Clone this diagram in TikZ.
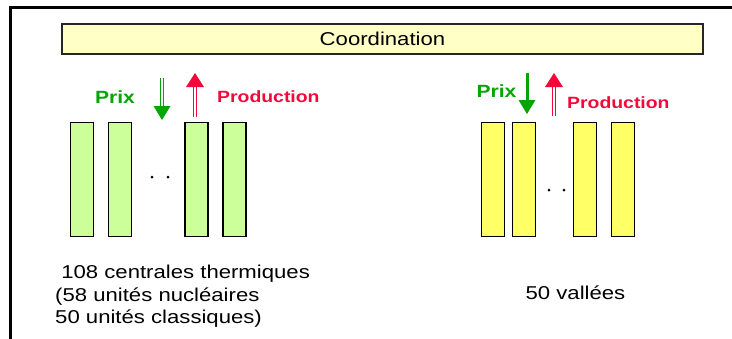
\documentclass[tikz,border=0pt]{standalone}
\usepackage{fontspec}
\setmainfont{Liberation Sans}
\newfontfamily\widefont[FakeStretch=1.19]{Liberation Sans}
\usetikzlibrary{calc}
\definecolor{coordfill}{HTML}{FFFFC6}
\definecolor{barg}{HTML}{CCFF99}
\definecolor{bary}{HTML}{FFFF66}
\definecolor{prixg}{HTML}{05A505}
\definecolor{prodr}{HTML}{F2093A}
\begin{document}
\begin{tikzpicture}[x=1pt,y=-1pt,
  bar/.style={draw=black,line width=1.4pt,minimum width=23pt,minimum height=114pt,inner sep=0pt},
  gbar/.style={bar,fill=barg},
  ybar/.style={bar,fill=bary},
  prixlbl/.style={font=\widefont\fontsize{17.7}{20}\selectfont\bfseries,inner sep=0pt,text=prixg},
  prodlbl/.style={font=\widefont\fontsize{16.3}{20}\selectfont\bfseries,inner sep=0pt,text=prodr,anchor=west},
  txt/.style={font=\widefont\fontsize{18.6}{22.5}\selectfont,inner sep=0pt},
  dshaft/.style={double distance=2.6pt,line width=0.9pt},
  dot/.style={circle,fill=black,inner sep=0pt,minimum size=3pt}
]
\useasboundingbox (0,0) rectangle (732,338);
% frame
\draw[line width=3pt,line cap=rect] (10,338) -- (10,7) -- (735,7);
% coordination
\node[draw=black!85,line width=1.2pt,fill=coordfill,minimum width=641pt,minimum height=30pt,inner sep=0pt,
  font=\widefont\fontsize{18.6}{22}\selectfont] (coord) at (382.5,39) {Coordination};
% left bars
\node[gbar] (g1) at (82,179.5) {};
\node[gbar] (g2) at (120,179.5) {};
\node[gbar] (g3) at (196.5,179.5) {};
\node[gbar] (g4) at (234.5,179.5) {};
\node[dot] (gd1) at (152,177) {};
\node[dot] (gd2) at (168,177) {};
% right bars
\node[ybar] (y1) at (493,179.5) {};
\node[ybar] (y2) at (524,179.5) {};
\node[ybar] (y3) at (585,179.5) {};
\node[ybar] (y4) at (623,179.5) {};
\node[dot] (yd1) at (549,190) {};
\node[dot] (yd2) at (564,190) {};
% labels
\node[prixlbl] (p1) at (115,97) {Prix};
\node[prodlbl] (r1) at (217,97) {Production};
\node[prixlbl] (p2) at (496.5,91) {Prix};
\node[prodlbl] (r2) at (567,103) {Production};
% left arrows
\coordinate (ga1) at (162,78);
\coordinate (gb1) at (162,120);
\draw[prixg,dshaft] (ga1) -- ($(gb1)+(0,-12)$);
\fill[prixg] (gb1) -- ++(-8.5,-14) -- ++(17,0) -- cycle;
\coordinate (ra1) at (195,117);
\coordinate (rb1) at (195,73);
\draw[prodr,dshaft] (ra1) -- ($(rb1)+(0,12)$);
\fill[prodr] (rb1) -- ++(-9,14) -- ++(18,0) -- cycle;
% right arrows
\coordinate (ga2) at (527,73);
\coordinate (gb2) at (527,114);
\draw[prixg,line width=3pt] (ga2) -- ($(gb2)+(0,-12)$);
\fill[prixg] (gb2) -- ++(-8.5,-14) -- ++(17,0) -- cycle;
\coordinate (ra2) at (554,116);
\coordinate (rb2) at (554,73);
\draw[prodr,dshaft] (ra2) -- ($(rb2)+(0,12)$);
\fill[prodr] (rb2) -- ++(-9,14) -- ++(18,0) -- cycle;
% bottom texts
\node[txt,anchor=north west,align=left] (t1) at (55,265) {\ 108 centrales thermiques\\(58 unités nucléaires\\50 unités classiques)};
\node[txt] (t2) at (575.5,293) {50 vallées};
\end{tikzpicture}
\end{document}
